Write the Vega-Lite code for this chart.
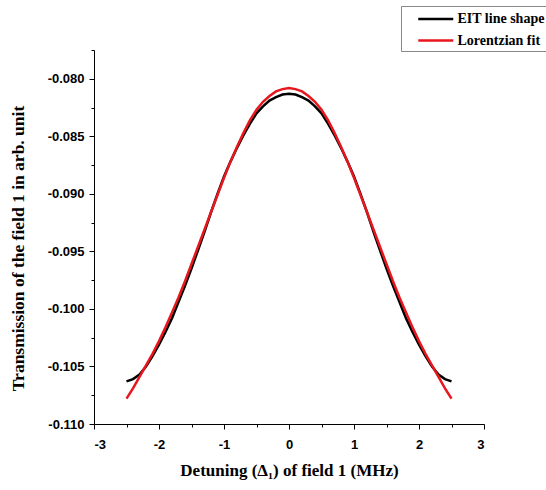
{
  "$schema": "https://vega.github.io/schema/vega-lite/v6.json",
  "width": 390,
  "height": 374,
  "autosize": {"type": "none"},
  "padding": {"left": 94, "top": 50, "right": 62, "bottom": 66},
  "background": "white",
  "config": {"view": {"stroke": null}},
  "data": {"values": [
    {"x": -2.5, "y": -0.1063, "s": "EIT line shape"},
    {"x": -2.4, "y": -0.1061, "s": "EIT line shape"},
    {"x": -2.3, "y": -0.1057, "s": "EIT line shape"},
    {"x": -2.2, "y": -0.1050, "s": "EIT line shape"},
    {"x": -2.1, "y": -0.1041, "s": "EIT line shape"},
    {"x": -2.0, "y": -0.1031, "s": "EIT line shape"},
    {"x": -1.9, "y": -0.1020, "s": "EIT line shape"},
    {"x": -1.8, "y": -0.1008, "s": "EIT line shape"},
    {"x": -1.7, "y": -0.0994, "s": "EIT line shape"},
    {"x": -1.6, "y": -0.0980, "s": "EIT line shape"},
    {"x": -1.5, "y": -0.0965, "s": "EIT line shape"},
    {"x": -1.4, "y": -0.0949, "s": "EIT line shape"},
    {"x": -1.3, "y": -0.0933, "s": "EIT line shape"},
    {"x": -1.2, "y": -0.0916, "s": "EIT line shape"},
    {"x": -1.1, "y": -0.0900, "s": "EIT line shape"},
    {"x": -1.0, "y": -0.0885, "s": "EIT line shape"},
    {"x": -0.9, "y": -0.0872, "s": "EIT line shape"},
    {"x": -0.8, "y": -0.0860, "s": "EIT line shape"},
    {"x": -0.7, "y": -0.0849, "s": "EIT line shape"},
    {"x": -0.6, "y": -0.0839, "s": "EIT line shape"},
    {"x": -0.5, "y": -0.0830, "s": "EIT line shape"},
    {"x": -0.4, "y": -0.0824, "s": "EIT line shape"},
    {"x": -0.3, "y": -0.0819, "s": "EIT line shape"},
    {"x": -0.2, "y": -0.0816, "s": "EIT line shape"},
    {"x": -0.1, "y": -0.08137, "s": "EIT line shape"},
    {"x": 0.0, "y": -0.0813, "s": "EIT line shape"},
    {"x": 0.1, "y": -0.08137, "s": "EIT line shape"},
    {"x": 0.2, "y": -0.0816, "s": "EIT line shape"},
    {"x": 0.3, "y": -0.0819, "s": "EIT line shape"},
    {"x": 0.4, "y": -0.0824, "s": "EIT line shape"},
    {"x": 0.5, "y": -0.0830, "s": "EIT line shape"},
    {"x": 0.6, "y": -0.0839, "s": "EIT line shape"},
    {"x": 0.7, "y": -0.0849, "s": "EIT line shape"},
    {"x": 0.8, "y": -0.0860, "s": "EIT line shape"},
    {"x": 0.9, "y": -0.0872, "s": "EIT line shape"},
    {"x": 1.0, "y": -0.0885, "s": "EIT line shape"},
    {"x": 1.1, "y": -0.0900, "s": "EIT line shape"},
    {"x": 1.2, "y": -0.0916, "s": "EIT line shape"},
    {"x": 1.3, "y": -0.0933, "s": "EIT line shape"},
    {"x": 1.4, "y": -0.0949, "s": "EIT line shape"},
    {"x": 1.5, "y": -0.0965, "s": "EIT line shape"},
    {"x": 1.6, "y": -0.0980, "s": "EIT line shape"},
    {"x": 1.7, "y": -0.0994, "s": "EIT line shape"},
    {"x": 1.8, "y": -0.1008, "s": "EIT line shape"},
    {"x": 1.9, "y": -0.1020, "s": "EIT line shape"},
    {"x": 2.0, "y": -0.1031, "s": "EIT line shape"},
    {"x": 2.1, "y": -0.1041, "s": "EIT line shape"},
    {"x": 2.2, "y": -0.1050, "s": "EIT line shape"},
    {"x": 2.3, "y": -0.1057, "s": "EIT line shape"},
    {"x": 2.4, "y": -0.1061, "s": "EIT line shape"},
    {"x": 2.5, "y": -0.1063, "s": "EIT line shape"},
    {"x": -2.5, "y": -0.1078, "s": "Lorentzian fit"},
    {"x": -2.4, "y": -0.1069, "s": "Lorentzian fit"},
    {"x": -2.3, "y": -0.1059, "s": "Lorentzian fit"},
    {"x": -2.2, "y": -0.1049, "s": "Lorentzian fit"},
    {"x": -2.1, "y": -0.1039, "s": "Lorentzian fit"},
    {"x": -2.0, "y": -0.1028, "s": "Lorentzian fit"},
    {"x": -1.9, "y": -0.1016, "s": "Lorentzian fit"},
    {"x": -1.8, "y": -0.1003, "s": "Lorentzian fit"},
    {"x": -1.7, "y": -0.0990, "s": "Lorentzian fit"},
    {"x": -1.6, "y": -0.0976, "s": "Lorentzian fit"},
    {"x": -1.5, "y": -0.0961, "s": "Lorentzian fit"},
    {"x": -1.4, "y": -0.0946, "s": "Lorentzian fit"},
    {"x": -1.3, "y": -0.0931, "s": "Lorentzian fit"},
    {"x": -1.2, "y": -0.0916, "s": "Lorentzian fit"},
    {"x": -1.1, "y": -0.0901, "s": "Lorentzian fit"},
    {"x": -1.0, "y": -0.0886, "s": "Lorentzian fit"},
    {"x": -0.9, "y": -0.0872, "s": "Lorentzian fit"},
    {"x": -0.8, "y": -0.0859, "s": "Lorentzian fit"},
    {"x": -0.7, "y": -0.0847, "s": "Lorentzian fit"},
    {"x": -0.6, "y": -0.0836, "s": "Lorentzian fit"},
    {"x": -0.5, "y": -0.0827, "s": "Lorentzian fit"},
    {"x": -0.4, "y": -0.0820, "s": "Lorentzian fit"},
    {"x": -0.3, "y": -0.0815, "s": "Lorentzian fit"},
    {"x": -0.2, "y": -0.0811, "s": "Lorentzian fit"},
    {"x": -0.1, "y": -0.0809, "s": "Lorentzian fit"},
    {"x": 0.0, "y": -0.0808, "s": "Lorentzian fit"},
    {"x": 0.1, "y": -0.0809, "s": "Lorentzian fit"},
    {"x": 0.2, "y": -0.0811, "s": "Lorentzian fit"},
    {"x": 0.3, "y": -0.0815, "s": "Lorentzian fit"},
    {"x": 0.4, "y": -0.0820, "s": "Lorentzian fit"},
    {"x": 0.5, "y": -0.0827, "s": "Lorentzian fit"},
    {"x": 0.6, "y": -0.0836, "s": "Lorentzian fit"},
    {"x": 0.7, "y": -0.0847, "s": "Lorentzian fit"},
    {"x": 0.8, "y": -0.0859, "s": "Lorentzian fit"},
    {"x": 0.9, "y": -0.0872, "s": "Lorentzian fit"},
    {"x": 1.0, "y": -0.0886, "s": "Lorentzian fit"},
    {"x": 1.1, "y": -0.0901, "s": "Lorentzian fit"},
    {"x": 1.2, "y": -0.0916, "s": "Lorentzian fit"},
    {"x": 1.3, "y": -0.0931, "s": "Lorentzian fit"},
    {"x": 1.4, "y": -0.0946, "s": "Lorentzian fit"},
    {"x": 1.5, "y": -0.0961, "s": "Lorentzian fit"},
    {"x": 1.6, "y": -0.0976, "s": "Lorentzian fit"},
    {"x": 1.7, "y": -0.0990, "s": "Lorentzian fit"},
    {"x": 1.8, "y": -0.1003, "s": "Lorentzian fit"},
    {"x": 1.9, "y": -0.1016, "s": "Lorentzian fit"},
    {"x": 2.0, "y": -0.1028, "s": "Lorentzian fit"},
    {"x": 2.1, "y": -0.1039, "s": "Lorentzian fit"},
    {"x": 2.2, "y": -0.1049, "s": "Lorentzian fit"},
    {"x": 2.3, "y": -0.1059, "s": "Lorentzian fit"},
    {"x": 2.4, "y": -0.1069, "s": "Lorentzian fit"},
    {"x": 2.5, "y": -0.1078, "s": "Lorentzian fit"}
  ]},
  "layer": [
    {
      "mark": {"type": "line", "strokeWidth": 2.5},
      "encoding": {
        "x": {
          "field": "x", "type": "quantitative",
          "scale": {"domain": [-3, 3], "nice": false, "zero": false},
          "axis": {
            "orient": "bottom",
            "values": [-3, -2, -1, 0, 1, 2, 3],
            "format": "d",
            "labelExpr": "replace(datum.label, '\u2212', '-')",
            "grid": false,
            "domainColor": "black", "tickColor": "black", "labelColor": "black",
            "tickSize": 5, "labelPadding": 9,
            "labelFont": "Liberation Sans", "labelFontWeight": "bold", "labelFontSize": 13,
            "title": "Detuning (Δ₁) of field 1 (MHz)",
            "titleFont": "Liberation Serif", "titleFontSize": 17, "titleFontWeight": "bold",
            "titleColor": "black", "titlePadding": 11
          }
        },
        "y": {
          "field": "y", "type": "quantitative",
          "scale": {"domain": [-0.11, -0.0775], "nice": false, "zero": false},
          "axis": {
            "orient": "left",
            "values": [-0.11, -0.105, -0.1, -0.095, -0.09, -0.085, -0.08],
            "format": ".3f",
            "labelExpr": "replace(datum.label, '\u2212', '-')",
            "grid": false,
            "domainColor": "black", "tickColor": "black", "labelColor": "black",
            "tickSize": 5, "labelPadding": 5,
            "labelFont": "Liberation Sans", "labelFontWeight": "bold", "labelFontSize": 13,
            "title": "Transmission of the field 1 in arb. unit",
            "titleFont": "Liberation Serif", "titleFontSize": 17.5, "titleFontWeight": "bold",
            "titleColor": "black", "titlePadding": 20, "titleY": 198
          }
        },
        "color": {
          "field": "s", "type": "nominal",
          "scale": {"domain": ["EIT line shape", "Lorentzian fit"], "range": ["#000000", "#e8161d"]},
          "legend": {
            "orient": "none", "legendX": 307, "legendY": -44,
            "title": null,
            "symbolType": "M-2,0H2", "symbolSize": 306, "symbolStrokeWidth": 2.5,
            "symbolOffset": 21.75,
            "labelFont": "Liberation Serif", "labelFontWeight": "bold", "labelFontSize": 14,
            "labelColor": "black", "labelOffset": 11.75,
            "padding": 3, "rowPadding": 4.5,
            "strokeColor": "#888888", "fillColor": "white"
          }
        }
      }
    },
    {
      "mark": {"type": "line", "opacity": 0},
      "encoding": {
        "x": {
          "field": "x", "type": "quantitative",
          "axis": {
            "orient": "bottom",
            "values": [-2.5, -1.5, -0.5, 0.5, 1.5, 2.5],
            "labels": false, "domain": false, "grid": false,
            "tickColor": "black", "tickSize": 3, "title": null
          }
        },
        "y": {
          "field": "y", "type": "quantitative",
          "axis": {
            "orient": "left",
            "values": [-0.1075, -0.1025, -0.0975, -0.0925, -0.0875, -0.0825, -0.0775],
            "labels": false, "domain": false, "grid": false,
            "tickColor": "black", "tickSize": 3, "title": null
          }
        },
        "detail": {"field": "s", "type": "nominal"}
      }
    }
  ],
  "resolve": {"axis": {"x": "independent", "y": "independent"}}
}
